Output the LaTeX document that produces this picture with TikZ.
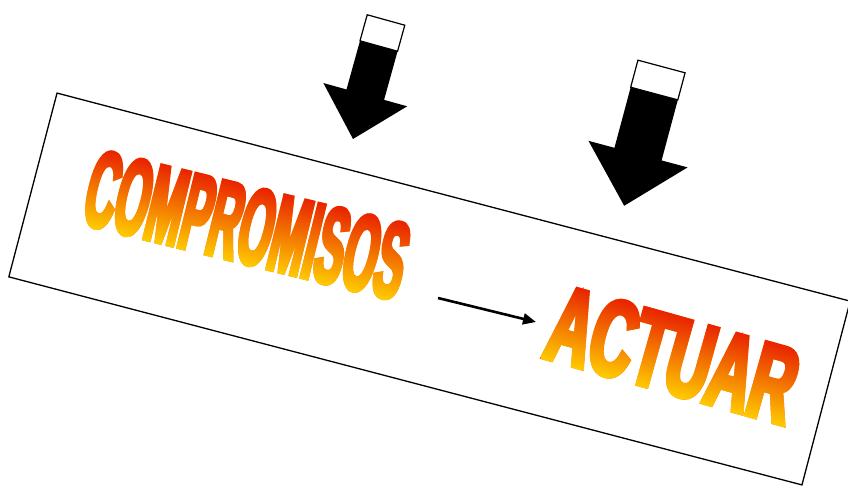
\documentclass[tikz,border=0pt]{standalone}
\usepackage{fontspec}
\setmainfont{Liberation Sans}
\newfontfamily\wordfont[FakeStretch=0.5, FakeBold=4]{Liberation Sans Bold}
\usepackage{xcolor}
\usetikzlibrary{positioning, arrows.meta, fadings}
\definecolor{fg}{HTML}{000000}
\definecolor{wordTop}{HTML}{E81E00}
\definecolor{wordBottom}{HTML}{FFD000}
\definecolor{wordBase}{HTML}{FF7A00}

\tikzset{
  wordart/.style={inner sep=0pt, text=wordBase, font=\wordfont},
  glow/.style={top color=wordTop, bottom color=wordBottom, fit fading=false},
}

\begin{tikzfadingfrompicture}[name=compMask]
  \node[wordart, text=transparent!0] {\resizebox{326pt}{76pt}{COMPROMISOS}};
\end{tikzfadingfrompicture}
\begin{tikzfadingfrompicture}[name=actMask]
  \node[wordart, text=transparent!0] {\resizebox{252pt}{76pt}{ACTUAR}};
\end{tikzfadingfrompicture}

\begin{document}
\begin{tikzpicture}[x=1pt, y=1pt]
      \useasboundingbox (0,0) rectangle (848,487);
      % tilted frame
      \node[draw=fg, line width=1.3pt, minimum width=820pt, minimum height=190pt,
            rotate=-14.7] (frame) at (429.5,198) {};
      % the two words
      \node[wordart, rotate=-13.7] (comp) at (247,262) {\resizebox{326pt}{76pt}{COMPROMISOS}};
      \node[wordart, rotate=-15.7] (act) at (673,132) {\resizebox{252pt}{76pt}{ACTUAR}};
      \begin{scope}[transform canvas={shift={(comp.center)}, rotate=-13.7}]
        \shade[glow, path fading=compMask] (-172,-42) rectangle (172,42);
      \end{scope}
      \begin{scope}[transform canvas={shift={(act.center)}, rotate=-15.7}]
        \shade[glow, path fading=actMask] (-134,-42) rectangle (134,42);
      \end{scope}
      % link between them
      \coordinate (linkStart) at (438,189);
      \coordinate (linkEnd) at (536,165);
      \draw[-{Triangle[length=13pt, width=11pt]}, line width=2.6pt, fg] (linkStart) -- (linkEnd);
      % big arrows from above
      \foreach \px/\py/\ang/\hw/\shaft/\headw/\len/\pale in
          {386/467/-15.5/19.5/77.5/43.5/123.5/27, 661.5/420.5/-15/24.4/90.7/51.3/144.2/28} {
        \begin{scope}[shift={(\px,\py)}, rotate=\ang]
          \fill[fg] (-\hw,0) -- (-\hw,-\shaft) -- (-\headw,-\shaft) -- (0,-\len)
                -- (\headw,-\shaft) -- (\hw,-\shaft) -- (\hw,0) -- cycle;
          \filldraw[fill=white, draw=fg, line width=1.2pt] (-\hw,0) rectangle (\hw,-\pale);
        \end{scope}
      }
\end{tikzpicture}
\end{document}
